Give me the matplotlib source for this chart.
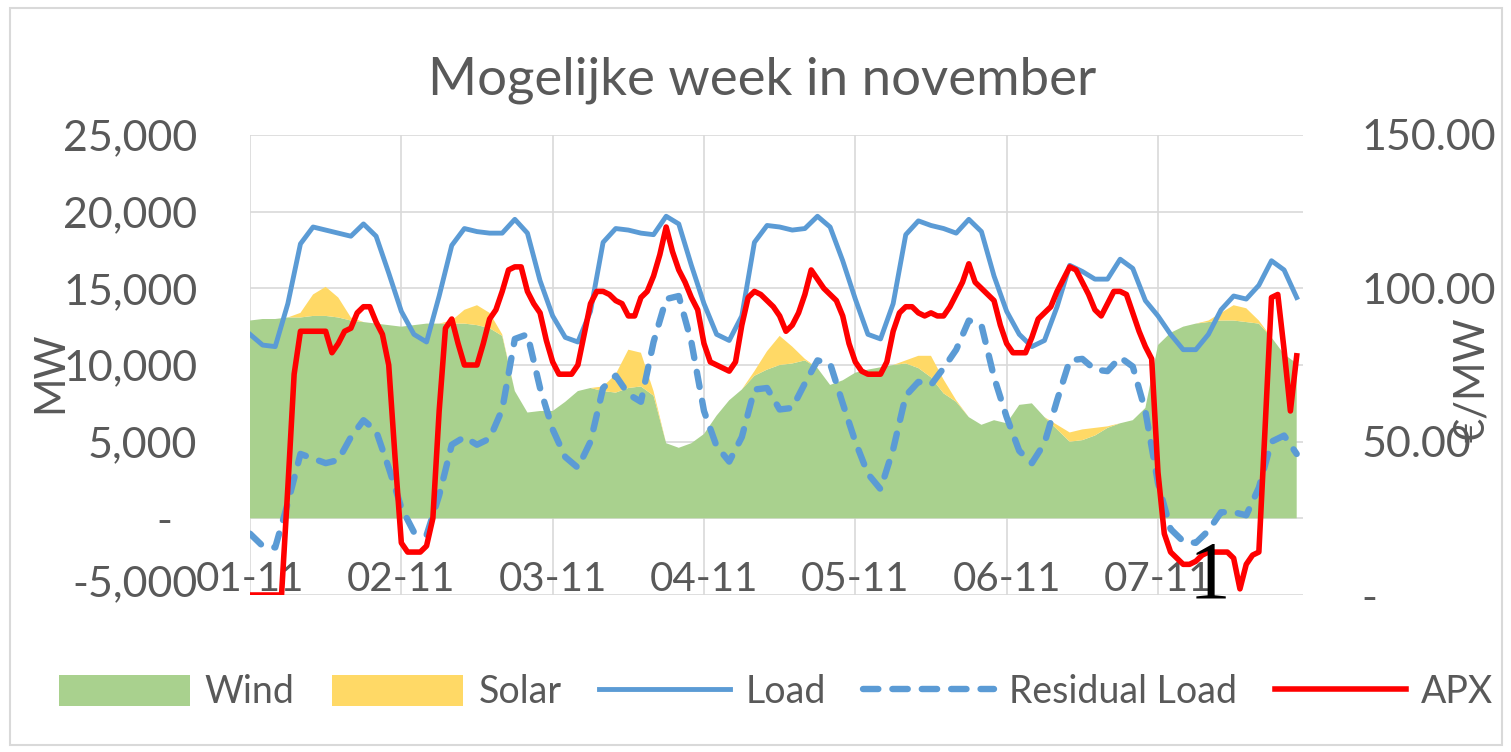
import numpy as np
import matplotlib.pyplot as plt
from matplotlib.patches import Rectangle
from matplotlib.transforms import ScaledTranslation

# Wind / Solar / Load / Residual Load per 2 uur (MW), 01-11 00:00 t/m 07-11 22:00
hours2 = np.arange(0, 168, 2)
wind = [12900, 13000, 13000, 13100, 13100, 13200, 13200, 13100, 12900, 12800, 12700, 12600,
        12500, 12600, 12700, 12700, 12700, 12700, 12600, 12400, 11900, 8300, 6900, 7000,
        7000, 7600, 8300, 8500, 8300, 8200, 8500, 8600, 8000, 4900, 4600, 4900,
        5500, 6700, 7700, 8400, 9300, 9700, 10000, 10100, 10300, 9800, 8700, 9000,
        9500, 9700, 9850, 10000, 10100, 9800, 9200, 8150, 7600, 6600, 6100, 6400,
        6200, 7400, 7500, 6600, 5800, 5000, 5100, 5400, 5900, 6200, 6400, 7200,
        11300, 12100, 12500, 12700, 12800, 12900, 12900, 12800, 12700, 11800, 10700, 10100]
solar = [0, 0, 0, 0, 300, 1400, 1900, 1300, 200, 0, 0, 0,
         0, 0, 0, 0, 200, 900, 1300, 1000, 100, 0, 0, 0,
         0, 0, 0, 0, 300, 1200, 2500, 2200, 300, 0, 0, 0,
         0, 0, 0, 0, 300, 1200, 1900, 1100, 100, 0, 0, 0,
         0, 0, 0, 0, 200, 800, 1400, 900, 100, 0, 0, 0,
         0, 0, 0, 0, 300, 600, 700, 500, 100, 0, 0, 0,
         0, 0, 0, 0, 100, 500, 1000, 900, 200, 0, 0, 0]
load = [12000, 11300, 11200, 14000, 17900, 19000, 18800, 18600, 18400, 19200, 18400, 16000,
        13500, 12000, 11500, 14500, 17800, 18900, 18700, 18600, 18600, 19500, 18600, 15500,
        13200, 11800, 11500, 13500, 18000, 18900, 18800, 18600, 18500, 19700, 19200, 16500,
        14000, 12000, 11600, 13200, 18000, 19100, 19000, 18800, 18900, 19700, 19000, 16800,
        14300, 12000, 11700, 14000, 18500, 19400, 19100, 18900, 18600, 19500, 18700, 15800,
        13500, 12000, 11200, 11600, 13800, 16500, 16100, 15600, 15600, 16900, 16300, 14200,
        13200, 12000, 11000, 11000, 12000, 13600, 14500, 14300, 15200, 16800, 16200, 14400]
residual = [-1000, -1800, -1900, 1000, 4200, 3900, 3600, 3800, 5300, 6400, 5700, 3300,
            700, -900, -1100, 1500, 4800, 5300, 4800, 5200, 7100, 11700, 12000, 8500,
            5800, 4000, 3300, 5000, 8500, 9300, 8100, 7600, 11500, 14300, 14500, 11500,
            7000, 4700, 3700, 5300, 8400, 8500, 7100, 7200, 8800, 10300, 10100, 7500,
            5000, 2900, 1900, 4500, 8000, 8900, 8700, 9800, 11000, 12900, 12600, 9200,
            6600, 4400, 3600, 4900, 7700, 10300, 10400, 9700, 9600, 10500, 9900, 7000,
            2300, -700, -1500, -1600, -800, 400, 400, 200, 2000, 5000, 5400, 4200]

# APX per uur (EUR/MWh)
hours = np.arange(0, 167)
apx = [0, 0, 0, 0, 0, 0, 35, 72, 86, 86, 86, 86, 86, 79, 82, 86, 87, 92, 94, 94, 89, 85, 75, 45,
       17, 14, 14, 14, 16, 25, 60, 87, 90, 82, 75, 75, 75, 82, 90, 93, 99, 106, 107, 107, 99, 95, 92, 83,
       76, 72, 72, 72, 75, 85, 95, 99, 99, 98, 96, 95, 91, 91, 97, 99, 104, 111, 120, 112, 106, 102, 97, 93,
       82, 76, 75, 74, 73, 76, 88, 97, 99, 98, 96, 94, 91, 86, 88, 92, 98, 106, 103, 100, 98, 96, 91, 82,
       76, 73, 72, 72, 72, 76, 86, 92, 94, 94, 92, 91, 92, 91, 91, 94, 98, 102, 108, 102, 100, 98, 96, 88,
       82, 79, 79, 79, 84, 90, 92, 94, 99, 103, 107, 106, 102, 98, 93, 91, 95, 99, 99, 98, 92, 86, 81, 77,
       40, 20, 14, 12, 10, 10, 11, 13, 14, 14, 14, 14, 12, 2, 10, 13, 14, 55, 97, 98, 80, 60, 78]

day_ticks = [0, 24, 48, 72, 96, 120, 144]
day_labels = ['01-11', '02-11', '03-11', '04-11', '05-11', '06-11', '07-11']
mw_ticks = [-5000, 0, 5000, 10000, 15000, 20000, 25000]
mw_labels = ['-5,000', '-', '5,000', '10,000', '15,000', '20,000', '25,000']
eur_ticks = [0, 50, 100, 150]
eur_labels = ['-', '50.00', '100.00', '150.00']

plt.rcParams['font.family'] = ['Lato', 'DejaVu Sans']
TXT = '#595959'
W, H = 1511, 752

fig = plt.figure(figsize=(W / 100, H / 100), dpi=100)
fig.patches.append(Rectangle((10 / W, 1 - 745 / H), 1492 / W, 737 / H, transform=fig.transFigure,
                             fill=False, edgecolor='#d9d9d9', lw=1.5))

ax = fig.add_axes([250 / W, 1 - 595 / H, 1053 / W, 460 / H])
ax.stackplot(hours2, wind, solar, colors=['#a9d18e', '#ffd966'], labels=['Wind', 'Solar'], zorder=2)
ax.plot(hours2, load, color='#5b9bd5', lw=3.5, label='Load', zorder=3, solid_joinstyle='round')
ax.plot(hours2, residual, color='#5b9bd5', lw=4.6, linestyle=(0, (2.4, 2.2)),
        dash_capstyle='round', label='Residual Load', zorder=3)
ax.set_xlim(0, 167)
ax.set_ylim(-5000, 25000)
ax.set_xticks(day_ticks)
ax.set_xticklabels(day_labels)
ax.set_yticks(mw_ticks)
ax.set_yticklabels(mw_labels)
ax.grid(color='#d9d9d9', lw=1.2, zorder=0)
ax.set_axisbelow(True)
ax.tick_params(length=0, labelcolor=TXT)
ax.tick_params(axis='y', pad=38, labelsize=31)
ax.tick_params(axis='x', pad=-11, labelsize=29)
for lab in ax.get_xticklabels():
    lab.set_va('center')
for s in ax.spines.values():
    s.set_visible(False)
ax.set_ylabel('MW', fontsize=30, color=TXT)
ax.yaxis.set_label_coords(-0.172, 0.485)

ax2 = ax.twinx()
ax2.plot(hours, apx, color='#ff0000', lw=4.0, label='APX', zorder=4, solid_joinstyle='round')
ax2.set_ylim(0, 150)
ax2.set_yticks(eur_ticks)
ax2.set_yticklabels(eur_labels)
ax2.tick_params(length=0, labelsize=31, labelcolor=TXT, pad=42)
for s in ax2.spines.values():
    s.set_visible(False)
ax2.set_ylabel('€/MW', fontsize=30, color=TXT, rotation=90)
ax2.yaxis.set_label_coords(1.142, 0.467)

# Excel-achtige plaatsing van enkele labels
for lab in ax.get_yticklabels():
    if lab.get_text() == '-':
        lab.set_transform(lab.get_transform() + ScaledTranslation(-25 / 100, 0, fig.dpi_scale_trans))
    if lab.get_text() == '-5,000':
        lab.set_transform(lab.get_transform() + ScaledTranslation(0, 14 / 100, fig.dpi_scale_trans))

fig.text(762 / W, 1 - 80 / H, 'Mogelijke week in november', ha='center', va='center',
         fontsize=38, color=TXT)
fig.text(1210 / W, 1 - 578 / H, '1', ha='center', va='center', fontsize=60,
         family='Liberation Serif', color='black', zorder=10)

h1, l1 = ax.get_legend_handles_labels()
h2, l2 = ax2.get_legend_handles_labels()
fig.legend(h1 + h2, l1 + l2, ncol=5, loc='center', bbox_to_anchor=(776 / W, 1 - 692 / H),
           frameon=False, fontsize=27, labelcolor=TXT, handlelength=3.5, handleheight=0.9,
           handletextpad=0.4, columnspacing=1.0)

fig.savefig('out.png', dpi=100)
